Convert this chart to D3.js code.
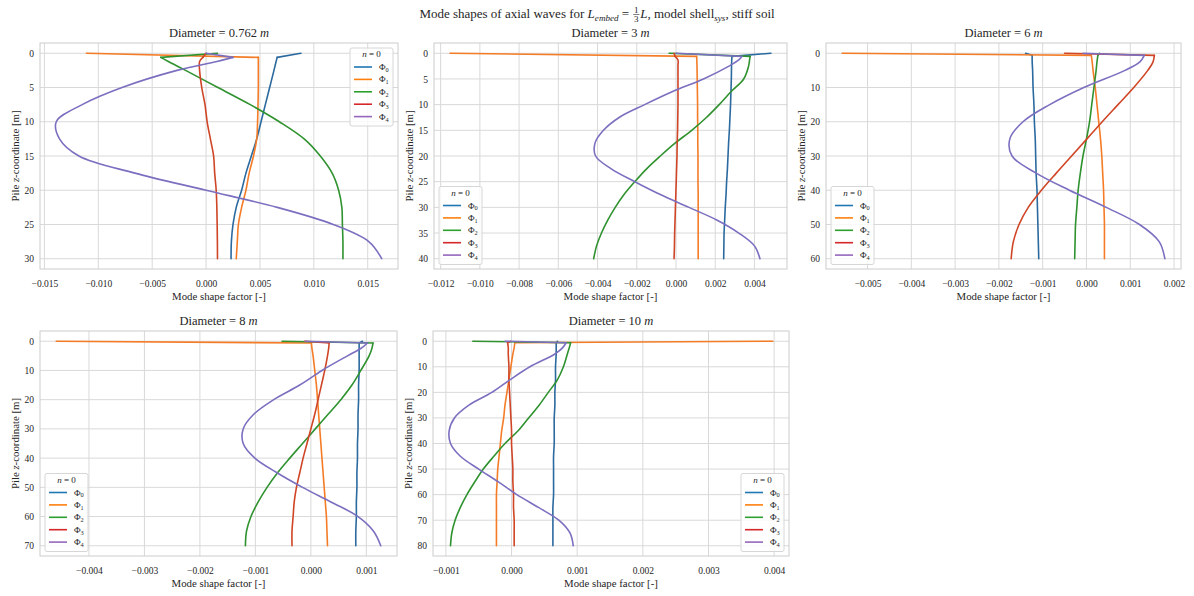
<!DOCTYPE html>
<html>
<head>
<meta charset="utf-8">
<script src="https://cdn.jsdelivr.net/npm/d3@7"></script>
<style>
  body { margin: 0; background: #ffffff; }
  svg { display: block; }
  text { font-family: "Liberation Serif", "DejaVu Serif", serif; fill: #262626; }
</style>
</head>
<body>
<svg id="chart" width="1194" height="596"></svg>
<script>
// ---------- series keys ----------
const modeIndex = ["0", "1", "2", "3", "4"];
const diameters = ["0.762", "3", "6", "8", "10"];

// ---------- D = 0.762 m (pile length 30 m) ----------
const zD0762 = [0, 0.6, 1.2, 2.5, 5, 7.5, 10, 12.5, 15, 17.5, 20, 22.5, 25, 27.5, 30];
const phi0D0762 = [0.0088, 0.0066, 0.0065, 0.0063, 0.0059, 0.0055, 0.0051, 0.0047, 0.0042, 0.0037, 0.0033, 0.0028, 0.0025, 0.00235, 0.00232];
const phi1D0762 = [-0.0111, 0.00485, 0.00485, 0.00485, 0.00485, 0.00482, 0.00478, 0.0047, 0.0044, 0.0040, 0.0037, 0.0033, 0.0030, 0.0029, 0.0028];
const phi2D0762 = [0.00106, -0.0042, -0.0035, -0.0019, 0.0011, 0.0041, 0.0068, 0.0091, 0.0106, 0.0117, 0.0123, 0.0126, 0.01265, 0.0127, 0.0127];
const phi3D0762 = [0.0000, -0.0003, -0.0006, -0.0006, -0.0004, -0.0001, 0.0001, 0.0004, 0.0007, 0.0008, 0.00094, 0.0010, 0.00103, 0.00105, 0.00106];
const phi4D0762 = [0.0000, 0.0025, 0.0010, -0.0027, -0.0078, -0.0115, -0.0139, -0.0136, -0.0118, -0.0066, 0.0000, 0.0066, 0.0118, 0.0151, 0.0163];
const xTicksD0762 = [-0.015, -0.010, -0.005, 0.000, 0.005, 0.010, 0.015];
const zTicksD0762 = [0, 5, 10, 15, 20, 25, 30];

// ---------- D = 3 m (pile length 40 m) ----------
const zD3 = [0, 0.6, 1.3, 2.5, 5, 7.5, 10, 12.5, 15, 17.5, 20, 22.5, 25, 27.5, 30, 32.5, 35, 37.5, 40];
const phi0D3 = [0.00484, 0.00285, 0.00284, 0.00283, 0.00282, 0.0028, 0.00278, 0.00275, 0.00272, 0.00268, 0.00265, 0.00262, 0.00258, 0.00255, 0.00251, 0.00248, 0.00245, 0.00244, 0.00243];
const phi1D3 = [-0.01152, 0.00105, 0.00106, 0.00107, 0.00108, 0.00109, 0.0011, 0.0011, 0.00111, 0.00111, 0.00112, 0.00112, 0.00112, 0.00113, 0.00113, 0.00113, 0.00113, 0.00113, 0.00113];
const phi2D3 = [-0.00035, 0.00378, 0.00375, 0.0037, 0.00345, 0.0028, 0.0022, 0.00155, 0.0008, -0.00005, -0.0008, -0.0015, -0.0021, -0.00265, -0.0031, -0.00348, -0.0038, -0.00405, -0.0042];
const phi3D3 = [-0.0001, -0.00005, 0.0001, 0.0001, 0.0001, 0.0001, 0.0001, 0.00009, 0.00008, 0.00006, 0.00005, 0.00003, 0.00001, -0.00001, -0.00003, -0.00005, -0.00007, -0.00008, -0.0001];
const phi4D3 = [0.0000, 0.00336, 0.0032, 0.0027, 0.0014, -0.0002, -0.0016, -0.0029, -0.0037, -0.00413, -0.0041, -0.0033, -0.0021, -0.0008, 0.00066, 0.0021, 0.0032, 0.0040, 0.00428];
const xTicksD3 = [-0.012, -0.010, -0.008, -0.006, -0.004, -0.002, 0.000, 0.002, 0.004];
const zTicksD3 = [0, 5, 10, 15, 20, 25, 30, 35, 40];

// ---------- D = 6 m (pile length 60 m) ----------
const zD6 = [0, 0.6, 2.5, 5, 10, 15, 20, 25, 30, 35, 40, 45, 50, 55, 60];
const phi0D6 = [-0.00139, -0.00124, -0.00124, -0.00123, -0.00122, -0.0012, -0.00119, -0.00117, -0.00116, -0.00115, -0.00113, -0.00112, -0.00111, -0.0011, -0.00109];
const phi1D6 = [-0.00558, 0.00011, 0.00013, 0.00015, 0.0002, 0.00024, 0.00028, 0.00032, 0.00035, 0.00037, 0.00039, 0.0004, 0.00041, 0.00041, 0.00041];
const phi2D6 = [0.0003, 0.00026, 0.00024, 0.00022, 0.00017, 0.00012, 0.00007, 0.0, -0.00008, -0.00014, -0.00019, -0.00022, -0.00025, -0.00026, -0.00027];
const phi3D6 = [-0.0005, 0.00155, 0.00152, 0.0014, 0.00108, 0.00072, 0.00036, 0.00001, -0.00034, -0.00069, -0.00103, -0.00133, -0.00154, -0.00167, -0.00172];
const phi4D6 = [-0.00008, 0.00132, 0.00122, 0.00088, -0.00006, -0.00084, -0.00145, -0.00175, -0.0017, -0.00115, -0.00039, 0.00045, 0.00121, 0.00166, 0.00179];
const xTicksD6 = [-0.005, -0.004, -0.003, -0.002, -0.001, 0.000, 0.001, 0.002];
const zTicksD6 = [0, 10, 20, 30, 40, 50, 60];

// ---------- D = 8 m (pile length 70 m) ----------
const zD8 = [0, 0.6, 2.5, 5, 10, 15, 20, 25, 30, 35, 40, 45, 50, 55, 60, 65, 70];
const phi0D8 = [0.00093, 0.00087, 0.00087, 0.00087, 0.00087, 0.00086, 0.00086, 0.00085, 0.00085, 0.00084, 0.00084, 0.00083, 0.00083, 0.00082, 0.00082, 0.00081, 0.00081];
const phi1D8 = [-0.00459, 0.00001, 0.00002, 0.00004, 0.00007, 0.0001, 0.00012, 0.00014, 0.00016, 0.00018, 0.0002, 0.00022, 0.00024, 0.00026, 0.00028, 0.00029, 0.0003];
const phi2D8 = [-0.00052, 0.00112, 0.0011, 0.00105, 0.0009, 0.00074, 0.00054, 0.00031, 0.00008, -0.00015, -0.00038, -0.0006, -0.00079, -0.00095, -0.00108, -0.00116, -0.00118];
const phi3D8 = [-0.00011, 0.00033, 0.00032, 0.0003, 0.00025, 0.00019, 0.00013, 0.00007, 0.0, -0.00007, -0.00014, -0.0002, -0.00026, -0.0003, -0.00032, -0.00034, -0.00034];
const phi4D8 = [-0.0001, 0.00102, 0.0009, 0.00066, 0.0002, -0.0002, -0.00067, -0.00103, -0.00122, -0.00122, -0.00101, -0.00061, -0.00015, 0.00036, 0.00085, 0.00113, 0.00126];
const xTicksD8 = [-0.004, -0.003, -0.002, -0.001, 0.000, 0.001];
const zTicksD8 = [0, 10, 20, 30, 40, 50, 60, 70];

// ---------- D = 10 m (pile length 80 m) ----------
const zD10 = [0, 0.6, 2.5, 5, 10, 15, 20, 25, 30, 35, 40, 45, 50, 55, 60, 65, 70, 75, 80];
const phi0D10 = [0.0007, 0.00068, 0.00068, 0.00068, 0.00067, 0.00067, 0.00066, 0.00066, 0.00065, 0.00065, 0.00065, 0.00064, 0.00064, 0.00064, 0.00064, 0.00063, 0.00063, 0.00063, 0.00063];
const phi1D10 = [0.00398, 0.00005, 0.00004, 0.00002, -0.00001, -0.00004, -0.00007, -0.0001, -0.00012, -0.00015, -0.00017, -0.00019, -0.00021, -0.00022, -0.00023, -0.00023, -0.00023, -0.00023, -0.00023];
const phi2D10 = [-0.00059, 0.0009, 0.00088, 0.00085, 0.00079, 0.0007, 0.00056, 0.00042, 0.00026, 0.0001, -0.0001, -0.00027, -0.00043, -0.00056, -0.00068, -0.00078, -0.00086, -0.00091, -0.00093];
const phi3D10 = [-0.00001, -0.00006, -0.00005, -0.00005, -0.00004, -0.00004, -0.00003, -0.00002, -0.00001, 0.0, 0.0, 0.00001, 0.00002, 0.00002, 0.00003, 0.00003, 0.00004, 0.00004, 0.00004];
const phi4D10 = [-0.0001, 0.00083, 0.00078, 0.00066, 0.00028, -0.00002, -0.0003, -0.00065, -0.00087, -0.00095, -0.00093, -0.00078, -0.0005, -0.0002, 0.00008, 0.00041, 0.00072, 0.00089, 0.00094];
const xTicksD10 = [-0.001, 0.000, 0.001, 0.002, 0.003, 0.004];
const zTicksD10 = [0, 10, 20, 30, 40, 50, 60, 70, 80];

// ---------- assemble panels ----------
const panels = [
  { d: diameters[0], z: zD0762, modes: [phi0D0762, phi1D0762, phi2D0762, phi3D0762, phi4D0762], xt: xTicksD0762, zt: zTicksD0762 },
  { d: diameters[1], z: zD3,    modes: [phi0D3, phi1D3, phi2D3, phi3D3, phi4D3],                xt: xTicksD3,    zt: zTicksD3 },
  { d: diameters[2], z: zD6,    modes: [phi0D6, phi1D6, phi2D6, phi3D6, phi4D6],                xt: xTicksD6,    zt: zTicksD6 },
  { d: diameters[3], z: zD8,    modes: [phi0D8, phi1D8, phi2D8, phi3D8, phi4D8],                xt: xTicksD8,    zt: zTicksD8 },
  { d: diameters[4], z: zD10,   modes: [phi0D10, phi1D10, phi2D10, phi3D10, phi4D10],           xt: xTicksD10,   zt: zTicksD10 }
];

// plot rectangles and legend placement
const frames = [
  { left: 40,  right: 398,  top: 43,  bottom: 269, legend: "upper right" },
  { left: 434, right: 787,  top: 43,  bottom: 269, legend: "lower left" },
  { left: 826, right: 1181, top: 43,  bottom: 269, legend: "lower left" },
  { left: 40,  right: 397,  top: 331, bottom: 556, legend: "lower left" },
  { left: 433, right: 789,  top: 331, bottom: 556, legend: "lower right" }
];

const lineColors   = ["#2b6a9f", "#f47c27", "#2f922f", "#cf4526", "#7b6fc0"];
const legendColors = ["#1f77b4", "#ff7f0e", "#2ca02c", "#d62728", "#9467bd"];
const TEXT = "#262626";
const GRID = "#d9d9d9";
const EDGE = "#cccccc";

const svg = d3.select("#chart");
const NB = "\u00A0";

// Text built from runs of roman / italic / subscript pieces and stacked fractions.
function richText(parent, parts, { x, y, size, anchor = "start", rotate = 0 }) {
  const g = parent.append("g");
  let cx = 0;
  for (const p of parts) {
    if (p.frac) {
      const s = size * 0.7;
      const num = g.append("text").attr("y", -size * 0.42).style("font-size", s + "px")
        .attr("text-anchor", "middle").text(p.frac[0]);
      const den = g.append("text").attr("y", size * 0.32).style("font-size", s + "px")
        .attr("text-anchor", "middle").text(p.frac[1]);
      const w = Math.max(num.node().getComputedTextLength(), den.node().getComputedTextLength()) + size * 0.25;
      num.attr("x", cx + w / 2);
      den.attr("x", cx + w / 2);
      g.append("line").attr("x1", cx + size * 0.06).attr("x2", cx + w - size * 0.06)
        .attr("y1", -size * 0.27).attr("y2", -size * 0.27)
        .attr("stroke", TEXT).attr("stroke-width", 0.6);
      cx += w;
    } else {
      const fs = p.sub ? size * 0.7 : size;
      const t = g.append("text").attr("x", cx).attr("y", p.sub ? size * 0.22 : 0)
        .style("font-size", fs + "px")
        .style("font-style", p.it ? "italic" : "normal")
        .text(p.t.replace(/ /g, NB));
      cx += t.node().getComputedTextLength();
    }
  }
  const off = anchor === "middle" ? -cx / 2 : anchor === "end" ? -cx : 0;
  g.attr("transform", `translate(${x},${y}) rotate(${rotate}) translate(${off},0)`);
  return g;
}

// Figure title
richText(svg, [
  { t: "Mode shapes of axial waves for " },
  { t: "L", it: true }, { t: "embed", it: true, sub: true },
  { t: " = " }, { frac: ["1", "3"] }, { t: "L", it: true },
  { t: ", model shell" }, { t: "sys", it: true, sub: true },
  { t: ", stiff soil" }
], { x: 597, y: 18, size: 13, anchor: "middle" });

const fmtX = d3.format(".3f");
const fmtZ = d3.format("d");

function padded(lo, hi) {
  const m = 0.05 * (hi - lo);
  return [lo - m, hi + m];
}

panels.forEach((p, pi) => {
  const f = frames[pi];
  const g = svg.append("g");
  const allVals = p.modes.flat();
  const zMax = d3.max(p.z);

  const x = d3.scaleLinear().domain(padded(d3.min(allVals), d3.max(allVals))).range([f.left, f.right]);
  const y = d3.scaleLinear().domain(padded(0, zMax)).range([f.top, f.bottom]);

  // grid
  g.append("g").selectAll("line").data(p.xt).join("line")
    .attr("x1", d => x(d)).attr("x2", d => x(d)).attr("y1", f.top).attr("y2", f.bottom)
    .attr("stroke", GRID).attr("stroke-width", 1);
  g.append("g").selectAll("line").data(p.zt).join("line")
    .attr("y1", d => y(d)).attr("y2", d => y(d)).attr("x1", f.left).attr("x2", f.right)
    .attr("stroke", GRID).attr("stroke-width", 1);

  // mode shape curves: straight head element, smooth shaft below it
  const head = d3.line().x(d => x(d[1])).y(d => y(d[0]));
  const shaft = d3.line().x(d => x(d[1])).y(d => y(d[0])).curve(d3.curveCatmullRom.alpha(0.5));
  p.modes.forEach((vals, mi) => {
    const pts = p.z.map((z, i) => [z, vals[i]]);
    const mg = g.append("g").attr("fill", "none").attr("stroke", lineColors[mi])
      .attr("stroke-width", 1.6).attr("stroke-linejoin", "round").attr("stroke-linecap", "round");
    mg.append("path").datum(pts.slice(0, 2)).attr("d", head);
    mg.append("path").datum(pts.slice(1)).attr("d", shaft);
  });

  // frame
  g.append("rect").attr("x", f.left).attr("y", f.top)
    .attr("width", f.right - f.left).attr("height", f.bottom - f.top)
    .attr("fill", "none").attr("stroke", EDGE).attr("stroke-width", 1);

  // axes
  const ax = g.append("g").attr("transform", `translate(0,${f.bottom})`)
    .call(d3.axisBottom(x).tickValues(p.xt).tickFormat(fmtX).tickSize(0).tickPadding(11.5));
  ax.select(".domain").remove();
  ax.attr("font-family", null).attr("font-size", null);
  ax.selectAll("text").style("font-size", "9.5px").style("fill", TEXT);

  const ay = g.append("g").attr("transform", `translate(${f.left},0)`)
    .call(d3.axisLeft(y).tickValues(p.zt).tickFormat(fmtZ).tickSize(0).tickPadding(6));
  ay.select(".domain").remove();
  ay.attr("font-family", null).attr("font-size", null);
  ay.selectAll("text").style("font-size", "9.5px").style("fill", TEXT);

  // titles and labels
  const cxm = (f.left + f.right) / 2;
  richText(g, [{ t: "Diameter = " + p.d + " " }, { t: "m", it: true }],
    { x: cxm, y: f.top - 6, size: 12.5, anchor: "middle" });
  richText(g, [{ t: "Mode shape factor [-]" }],
    { x: cxm, y: f.bottom + 30.5, size: 10.8, anchor: "middle" });
  richText(g, [{ t: "Pile " }, { t: "z", it: true }, { t: "-coordinate [m]" }],
    { x: f.left - 21, y: (f.top + f.bottom) / 2, size: 10.8, anchor: "middle", rotate: -90 });

  // legend
  const lw = 43, lh = 78;
  let lx, ly;
  if (f.legend === "upper right") { lx = f.right - 5 - lw; ly = f.top + 5; }
  else if (f.legend === "lower left") { lx = f.left + 5; ly = f.bottom - 4.5 - lh; }
  else { lx = f.right - 5 - lw; ly = f.bottom - 4.5 - lh; }
  const lg = g.append("g").attr("transform", `translate(${lx},${ly})`);
  lg.append("rect").attr("width", lw).attr("height", lh).attr("rx", 2)
    .attr("fill", "#ffffff").attr("fill-opacity", 0.8)
    .attr("stroke", "#d6d6d6").attr("stroke-width", 1);
  richText(lg, [{ t: "n", it: true }, { t: " = 0" }], { x: lw / 2, y: 9, size: 9, anchor: "middle" });
  modeIndex.forEach((m, i) => {
    const cy = 19 + i * 12.4;
    lg.append("line").attr("x1", 4).attr("x2", 22).attr("y1", cy).attr("y2", cy)
      .attr("stroke", legendColors[i]).attr("stroke-width", 1.6);
    richText(lg, [{ t: "Φ" }, { t: m, sub: true }], { x: 29, y: cy + 3, size: 9 });
  });
});
</script>
</body>
</html>
